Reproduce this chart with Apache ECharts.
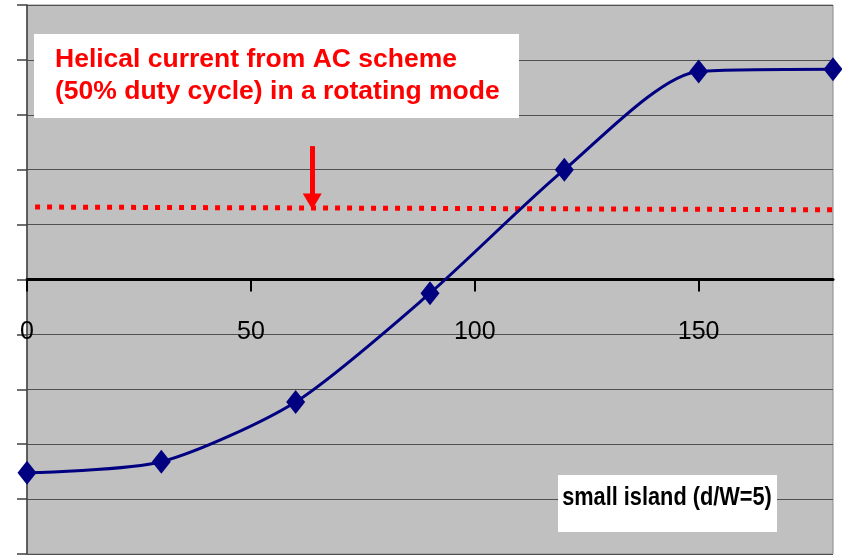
<!DOCTYPE html>
<html>
<head>
<meta charset="utf-8">
<script src="https://cdn.jsdelivr.net/npm/echarts@6/dist/echarts.min.js"></script>
<style>
  html, body { margin: 0; padding: 0; background: #fff; }
  #chart { width: 842px; height: 555px; }
</style>
</head>
<body>
<div id="chart"></div>
<script>
var phases = [0, 30, 60, 90, 120, 150, 180];
var response = [-3.52, -3.32, -2.23, -0.25, 2.0, 3.79, 3.83];
// helical current level from AC scheme (dotted red line)
var acLevel = [[1.8, 1.32], [180, 1.27]];
// arrow pointing at that level
var arrowFrom = [63.7, 2.43];
var arrowTo = [63.7, 1.42];
var xTicks = [0, 50, 100, 150];

var chart = echarts.init(document.getElementById('chart'));

var option = {
  animation: false,
  grid: {
    left: 27, right: 9, top: 5, bottom: 1,
    outerBoundsMode: 'none',
    containLabel: false,
    show: true,
    backgroundColor: '#c0c0c0',
    borderColor: '#8a8a8a',
    borderWidth: 1
  },
  xAxis: {
    type: 'value',
    min: 0, max: 180, interval: 50,
    position: 'bottom',
    offset: -274.5,   // axis crosses the middle of the plot (y = 0)
    axisLine: { onZero: false, lineStyle: { color: '#000', width: 3 } },
    axisTick: { show: true, length: 12, lineStyle: { color: '#000', width: 2 }, customValues: xTicks },
    axisLabel: {
      customValues: xTicks,
      margin: 40,
      fontSize: 25,
      color: '#000',
      fontFamily: 'Liberation Sans, Arial, sans-serif'
    },
    splitLine: { show: false }
  },
  yAxis: {
    type: 'value',
    min: -5, max: 5, interval: 1,
    axisLine: { show: true, onZero: false, lineStyle: { color: '#404040', width: 1.5 } },
    axisTick: { show: true, length: 10, lineStyle: { color: '#404040', width: 1.5 } },
    axisLabel: { show: false },
    splitLine: { show: true, lineStyle: { color: '#505050', width: 1 } }
  },
  series: [
    {
      name: 'AC scheme',
      type: 'line',
      data: acLevel,
      symbol: 'none',
      z: 3,
      lineStyle: { color: '#ff0000', width: 5, type: [5, 7], cap: 'butt' },
      markLine: {
        silent: true,
        symbol: ['none', 'triangle'],
        symbolSize: [19, 16],
        symbolRotate: 180,
        label: { show: false },
        lineStyle: { color: '#ff0000', width: 5, type: 'solid' },
        data: [[{ coord: arrowFrom }, { coord: arrowTo }]]
      }
    },
    {
      name: 'small island',
      type: 'line',
      data: phases.map(function (p, i) { return [p, response[i]]; }),
      smooth: 0.25,
      symbol: 'diamond',
      symbolSize: [19, 24],
      z: 4,
      lineStyle: { color: '#000080', width: 3 },
      itemStyle: { color: '#000080' }
    }
  ],
  graphic: [
    {
      type: 'rect', z: 10,
      shape: { x: 34, y: 34, width: 485, height: 84 },
      style: { fill: '#fff' }
    },
    {
      type: 'text', z: 11, x: 55, y: 60,
      style: {
        text: 'Helical current from AC scheme',
        fill: '#ff0000', font: 'bold 26.5px Liberation Sans, Arial, sans-serif',
        verticalAlign: 'middle'
      }
    },
    {
      type: 'text', z: 11, x: 55, y: 92,
      style: {
        text: '(50% duty cycle) in a rotating mode',
        fill: '#ff0000', font: 'bold 26.5px Liberation Sans, Arial, sans-serif',
        verticalAlign: 'middle'
      }
    },
    {
      type: 'rect', z: 10,
      shape: { x: 558, y: 475, width: 219, height: 57 },
      style: { fill: '#fff' }
    },
    {
      type: 'text', z: 11, x: 667, y: 498, scaleX: 0.87,
      style: {
        text: 'small island (d/W=5)',
        fill: '#000', font: 'bold 25px Liberation Sans, Arial, sans-serif',
        align: 'center', verticalAlign: 'middle'
      }
    }
  ]
};

chart.setOption(option);
</script>
</body>
</html>
